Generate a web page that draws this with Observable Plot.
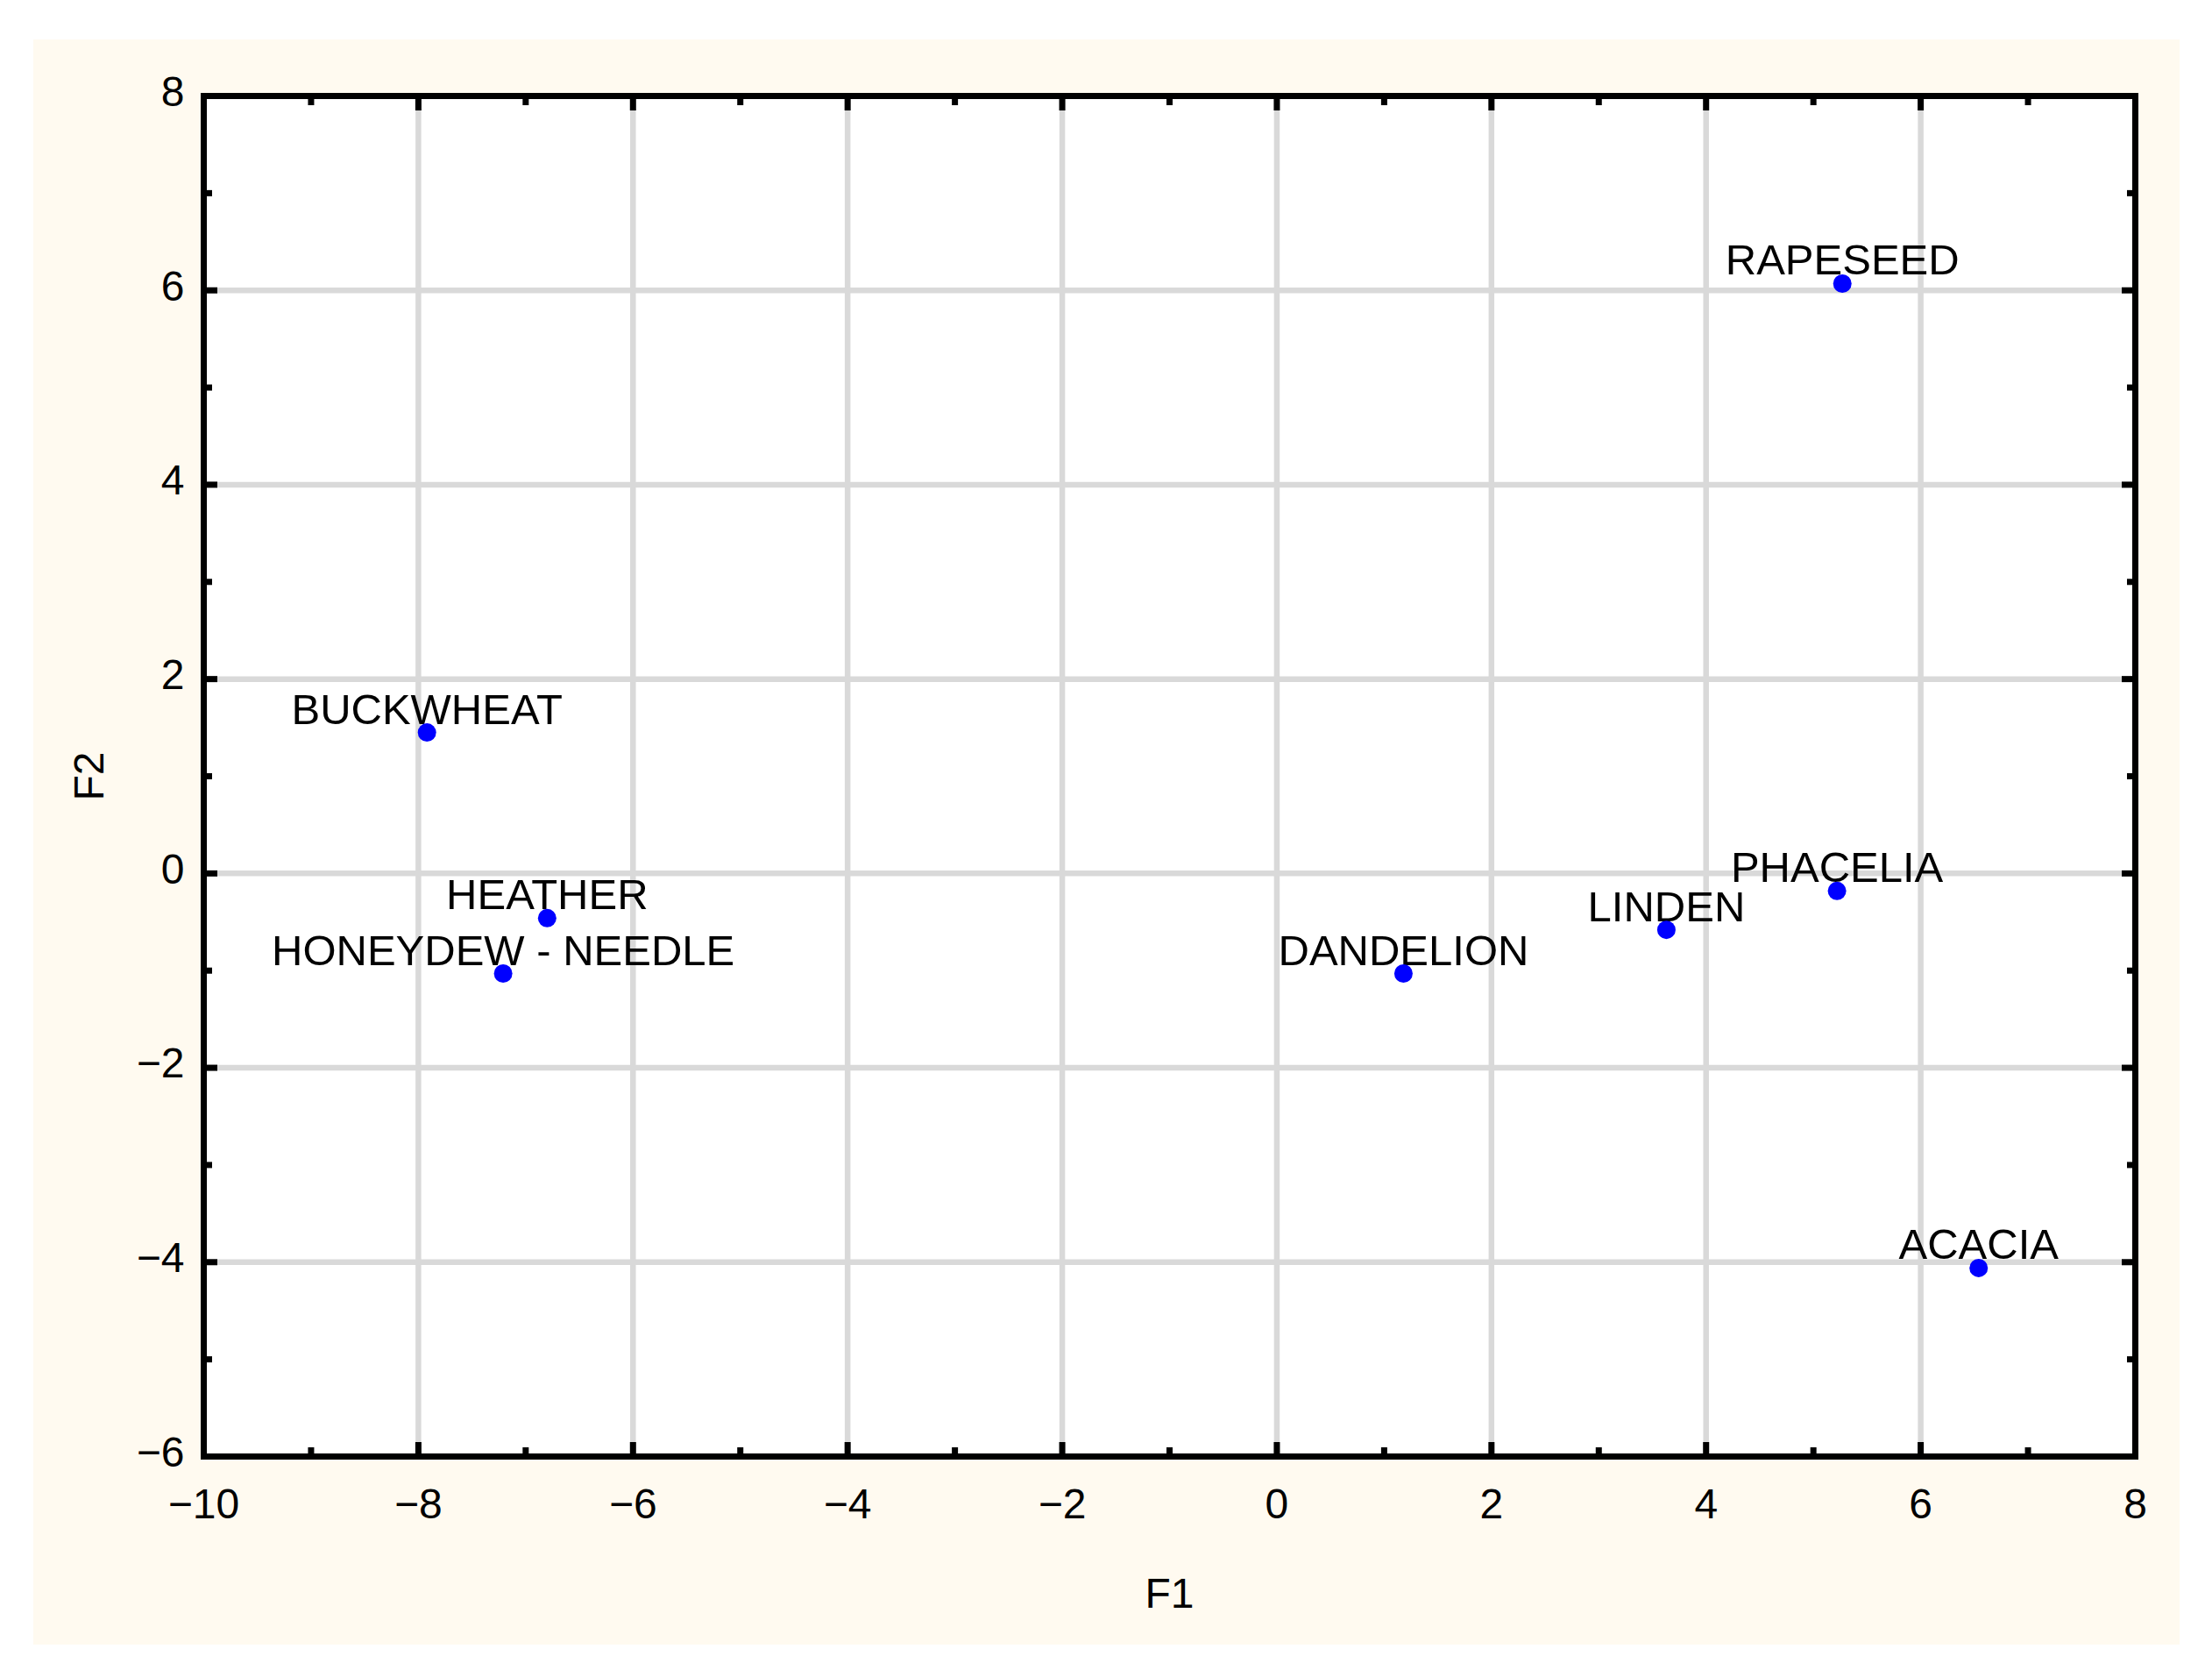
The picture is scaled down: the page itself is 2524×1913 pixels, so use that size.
<!DOCTYPE html>
<html>
<head>
<meta charset="utf-8">
<script src="https://cdn.jsdelivr.net/npm/d3@7"></script>
<script src="https://cdn.jsdelivr.net/npm/@observablehq/plot@0.6"></script>
<style>
  html, body { margin: 0; padding: 0; background: #ffffff; }
  #wrap { position: relative; width: 2524px; height: 1913px; }
  #bg { position: absolute; left: 38px; top: 45px; width: 2449px; height: 1831px; background: #fffaf0; }
  #chart { position: absolute; left: 0; top: 0; }
</style>
</head>
<body>
<div id="wrap"><div id="bg"></div><div id="chart"></div></div>
<script>
// Honey types and their scores on the first two factors
const honeys = ["RAPESEED", "BUCKWHEAT", "HEATHER", "HONEYDEW - NEEDLE", "DANDELION", "LINDEN", "PHACELIA", "ACACIA"];
const f1Values = [5.27, -7.92, -6.80, -7.21, 1.18, 3.63, 5.22, 6.54];
const f2Values = [6.07, 1.45, -0.46, -1.03, -1.03, -0.58, -0.18, -4.06];

// Axis ticks
const xMajorTicks = [-10, -8, -6, -4, -2, 0, 2, 4, 6, 8];
const xMinorTicks = [-9, -7, -5, -3, -1, 1, 3, 5, 7];
const yMajorTicks = [-6, -4, -2, 0, 2, 4, 6, 8];
const yMinorTicks = [-5, -3, -1, 1, 3, 5, 7];
const xLabel = "F1";
const yLabel = "F2";

const data = honeys.map((name, i) => ({name, f1: f1Values[i], f2: f2Values[i]}));

const fmt = d => (d < 0 ? "\u2212" + Math.abs(d) : String(d));
const font = "'Liberation Sans', Arial, Helvetica, sans-serif";
const tickStyle = {fill: "none", stroke: "black", strokeWidth: 7, label: null};

const chart = Plot.plot({
  width: 2524,
  height: 1913,
  marginLeft: 232,
  marginRight: 88,
  marginTop: 109,
  marginBottom: 252,
  style: {background: "transparent", fontFamily: font, color: "black", overflow: "visible"},
  x: {domain: [-10, 8], nice: false},
  y: {domain: [-6, 8], nice: false},
  marks: [
    Plot.frame({fill: "white", stroke: null}),
    Plot.gridX(xMajorTicks, {stroke: "#d9d9d9", strokeOpacity: 1, strokeWidth: 6.5}),
    Plot.gridY(yMajorTicks, {stroke: "#d9d9d9", strokeOpacity: 1, strokeWidth: 6.5}),
    Plot.frame({stroke: "black", strokeWidth: 7}),
    // inward tick marks on all four sides
    Plot.axisX(xMajorTicks, {anchor: "bottom", tickSize: -16, ...tickStyle}),
    Plot.axisX(xMinorTicks, {anchor: "bottom", tickSize: -10, ...tickStyle}),
    Plot.axisX(xMajorTicks, {anchor: "top", tickSize: -16, ...tickStyle}),
    Plot.axisX(xMinorTicks, {anchor: "top", tickSize: -10, ...tickStyle}),
    Plot.axisY(yMajorTicks, {anchor: "left", tickSize: -16, ...tickStyle}),
    Plot.axisY(yMinorTicks, {anchor: "left", tickSize: -10, ...tickStyle}),
    Plot.axisY(yMajorTicks, {anchor: "right", tickSize: -16, ...tickStyle}),
    Plot.axisY(yMinorTicks, {anchor: "right", tickSize: -10, ...tickStyle}),
    // tick labels and axis titles
    Plot.axisX(xMajorTicks, {
      anchor: "bottom", tickSize: 0, tickPadding: 36, fontSize: 48, fill: "black", tickFormat: fmt,
      label: xLabel, labelAnchor: "center", labelOffset: 172, labelArrow: "none"
    }),
    Plot.axisY(yMajorTicks, {
      anchor: "left", tickSize: 0, tickPadding: 22, fontSize: 48, fill: "black", dy: -4, tickFormat: fmt,
      label: yLabel, labelAnchor: "center", labelOffset: 149, labelArrow: "none"
    }),
    Plot.text(data, {x: "f1", y: "f2", text: "name", fontSize: 49, fill: "black", lineAnchor: "bottom", dy: -10, textAnchor: "middle"}),
    Plot.dot(data, {x: "f1", y: "f2", r: 10.5, fill: "#0000ff", stroke: null})
  ]
});
document.getElementById("chart").appendChild(chart);
</script>
</body>
</html>
